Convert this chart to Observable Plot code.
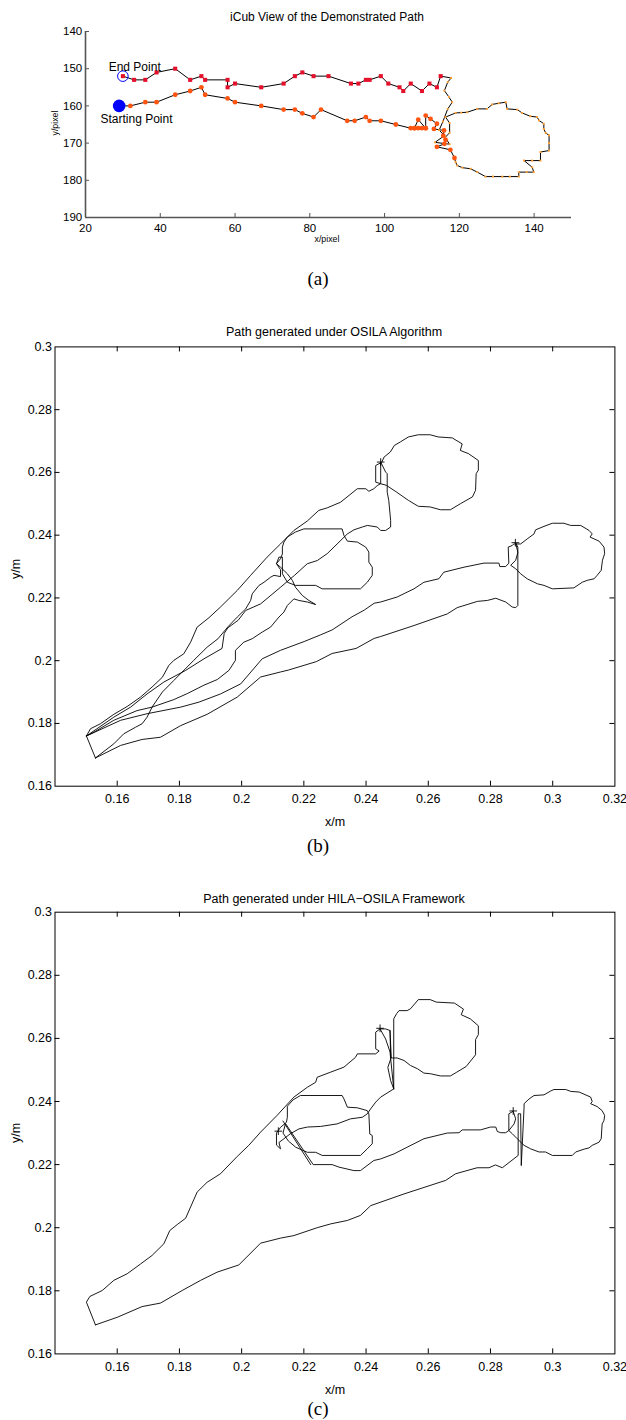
<!DOCTYPE html>
<html><head><meta charset="utf-8">
<script src="https://cdn.jsdelivr.net/npm/d3@7"></script>
<script src="https://cdn.jsdelivr.net/npm/@observablehq/plot@0.6"></script>
<style>
body{margin:0;background:#fff;}
#wrap{position:relative;width:626px;height:1420px;overflow:hidden;font-family:"Liberation Sans",Arial,Helvetica,sans-serif;background:#fff;}
.lbl{position:absolute;white-space:nowrap;transform:translate(-50%,-50%);line-height:1;color:#000;}
.rot{transform:translate(-50%,-50%) rotate(-90deg);}
.cap{font-family:"Liberation Serif","Times New Roman",serif;font-size:19px;}
.box{position:absolute;left:0;}
</style></head><body><div id="wrap"></div>
<script>
// ---------- Panel (a) data (pixel coordinates) ----------
const aXTicks = [20, 40, 60, 80, 100, 120, 140];
const aYTicks = [140, 150, 160, 170, 180, 190];
const aStart = [[29, 160]];
const aEnd = [[30, 152]];
const aLabels = ["End Point", "Starting Point"];
const aLabelX = [26.2, 24.0];
const aLabelY = [149.7, 163.5];
const aOrangeX = [32,36,39,44,48,51,52,58,60,67,73,76,78,81,83,90,92,95,96,99,103,107,108,109,110,111,109,108,111,111,112.3,114,113.2,115.9,115.7,116.3,116,114,117.6,118.7];
const aOrangeY = [160,159,159,157,156,155,157,158,159,160,161,161,162,163,161,164,164,163,164,164,165,166,166,166,166,166,163.7,166,166,162.6,163.5,164.8,166.2,166.6,168,169.1,170.2,171,171.8,174];
const aLoopX = [119.0,119.4,120.8,123.0,124.8,127.0,129.0,131.5,133.5,135.9,135.9,138.0,139.9,139.5,137.3,139.5,141.7,141.7,144.0,144.0,144.0,143.1,142.6,142.6,141.3,140.8,139.0,136.8,135.5,132.8,132.4,130.5,128.8,127.4,124.8,122.1,120.5,119.0,116.3,117.4,117.4,116.2,117.4,113.5,116.0,114.6,115.6,116.9,118.1,117.2,116.0,116.9,117.8];
const aLoopY = [175.1,176.0,176.6,176.9,177.8,179.0,179.0,179.0,179.0,179.0,177.8,177.8,177.8,176.5,174.7,174.7,174.7,172.4,172.0,170.0,167.9,167.3,166.2,164.8,163.9,163.0,162.8,161.9,161.0,160.8,159.0,159.3,159.6,160.8,160.8,161.7,161.8,161.9,163.0,164.6,167.2,168.5,170.3,169.8,168.0,166.5,164.2,160.8,159.0,157.6,155.9,153.6,152.5];
const aRedX = [115,114,112,110,107,105,104,101,99,96,95,93,91,85,81,78,76,73,67,60,58,58,52,51,48,44,39,36,33,30];
const aRedY = [152,155,154,156,154,156,155,154,152,153,153,154,154,152,152,151,152,154,155,154,155,153,153,152,153,150,151,153,153,152];

// ---------- Panels (b),(c) ticks (metres) ----------
const mXTickMarks = [0.16,0.18,0.2,0.22,0.24,0.26,0.28,0.3];
const mXLabels = [0.16,0.18,0.2,0.22,0.24,0.26,0.28,0.3,0.32];
const mYTickMarks = [0.18,0.2,0.22,0.24,0.26,0.28];
const mYLabels = [0.16,0.18,0.2,0.22,0.24,0.26,0.28,0.3];

// ---------- Panel (b) paths ----------
const bEdge = [[0.1501,0.1760],[0.1530,0.1690]];
const bUpper = [[0.1501,0.1760],[0.1514,0.1783],[0.1546,0.1799],[0.1589,0.1829],[0.1632,0.1854],[0.1675,0.1884],[0.1712,0.1916],[0.1745,0.1947],[0.1766,0.1985],[0.1782,0.2001],[0.1814,0.2022],[0.1836,0.2059],[0.1857,0.2107],[0.1895,0.2137],[0.1932,0.2171],[0.1986,0.2224],[0.2029,0.2272],[0.2082,0.2330],[0.2125,0.2372],[0.2168,0.2415],[0.2211,0.2445],[0.2248,0.2479],[0.2275,0.2487],[0.2318,0.2505],[0.2372,0.2548],[0.2399,0.2548],[0.2409,0.2540],[0.2425,0.2548],[0.2436,0.2558],[0.2447,0.2564],
 [0.2465,0.2559],[0.2497,0.2538],[0.2536,0.2511],[0.2568,0.2492],[0.2606,0.2490],[0.2639,0.2481],[0.2671,0.2481],[0.2703,0.2500],[0.2742,0.2522],[0.2752,0.2543],[0.2754,0.2596],[0.2761,0.2607],[0.2761,0.2638],[0.2729,0.2660],[0.2703,0.2670],[0.2709,0.2691],[0.2677,0.2710],[0.2632,0.2713],[0.2606,0.2720],[0.2568,0.2720],[0.2536,0.2713],[0.2510,0.2697],[0.2491,0.2686],[0.2478,0.2665],[0.2458,0.2649],[0.2450,0.2632],
 [0.2431,0.2622],[0.2431,0.2569],[0.2447,0.2564],[0.2447,0.2633],
 [0.2463,0.2601],[0.2468,0.2596],[0.2468,0.2537],[0.2473,0.2511],[0.2479,0.2447],[0.2479,0.2426],[0.2463,0.2415],[0.2447,0.2415],[0.2436,0.2426],[0.2404,0.2431],[0.2388,0.2426],[0.2361,0.2417],[0.2340,0.2404],[0.2307,0.2372],[0.2275,0.2341],[0.2243,0.2319],[0.2211,0.2309],[0.2170,0.2272],[0.2125,0.2234],[0.2061,0.2181],[0.2013,0.2160],[0.1989,0.2129],[0.1956,0.2105],[0.1944,0.2087],[0.1937,0.2039],[0.1879,0.2006],[0.1820,0.1969],[0.1750,0.1932],[0.1696,0.1894],[0.1643,0.1852],[0.1589,0.1820],[0.1501,0.1760]];
const bMiddle = [[0.1530,0.1690],[0.1589,0.1735],[0.1621,0.1767],[0.1659,0.1788],[0.1680,0.1799],[0.1696,0.1820],[0.1712,0.1852],[0.1745,0.1900],[0.1782,0.1937],[0.1846,0.2001],[0.1889,0.2043],[0.1924,0.2070],[0.1956,0.2108],[0.1986,0.2139],[0.2013,0.2165],[0.2029,0.2192],[0.2034,0.2213],[0.2056,0.2240],[0.2072,0.2250],[0.2093,0.2266],[0.2104,0.2272],[0.2125,0.2268],[0.2125,0.2290],[0.2112,0.2309],[0.2125,0.2325],[0.2131,0.2340],
 [0.2131,0.2362],[0.2136,0.2378],[0.2147,0.2394],[0.2173,0.2410],[0.2200,0.2420],[0.2323,0.2420],[0.2329,0.2399],[0.2340,0.2381],[0.2372,0.2378],[0.2399,0.2362],[0.2409,0.2346],[0.2409,0.2314],[0.2420,0.2298],[0.2420,0.2272],[0.2404,0.2250],[0.2382,0.2229],[0.2259,0.2229],[0.2238,0.2240],[0.2173,0.2240],[0.2147,0.2250],[0.2131,0.2277],[0.2131,0.2330],
 [0.2120,0.2330],[0.2112,0.2309],[0.2125,0.2298],[0.2147,0.2277],[0.2163,0.2256],[0.2173,0.2234],[0.2195,0.2208],[0.2216,0.2192],[0.2238,0.2179],[0.2211,0.2187],[0.2184,0.2192],[0.2168,0.2197],[0.2147,0.2176],[0.2136,0.2155],[0.2120,0.2139],[0.2093,0.2107],[0.2066,0.2091],[0.2034,0.2070],[0.2007,0.2059],[0.1980,0.2033],[0.1980,0.2001],[0.1959,0.1969],[0.1922,0.1940],[0.1879,0.1922],[0.1825,0.1895],[0.1782,0.1876],[0.1712,0.1852],[0.1664,0.1841],[0.1589,0.1810],[0.1525,0.1772],[0.1501,0.1760]];
const bRight = [[0.1501,0.1760],[0.1611,0.1810],[0.1696,0.1831],[0.1804,0.1852],[0.1863,0.1868],[0.1932,0.1894],[0.1997,0.1926],[0.2066,0.2006],[0.2125,0.2033],[0.2201,0.2061],[0.2253,0.2082],[0.2291,0.2098],[0.2355,0.2140],[0.2394,0.2161],[0.2426,0.2183],[0.2447,0.2187],[0.2500,0.2203],[0.2554,0.2229],[0.2586,0.2250],[0.2634,0.2261],[0.2650,0.2282],[0.2715,0.2298],[0.2779,0.2311],[0.2827,0.2311],[0.2830,0.2300],[0.2849,0.2300],[0.2859,0.2311],[0.2857,0.2362],[0.2870,0.2367],[0.2875,0.2372],
 [0.2897,0.2372],[0.2918,0.2388],[0.2940,0.2404],[0.2945,0.2417],[0.2972,0.2428],[0.2999,0.2438],[0.3036,0.2438],[0.3058,0.2431],[0.3090,0.2431],[0.3117,0.2415],[0.3127,0.2404],[0.3120,0.2394],[0.3149,0.2381],[0.3165,0.2362],[0.3167,0.2341],[0.3160,0.2320],[0.3156,0.2288],[0.3143,0.2272],[0.3133,0.2261],[0.3111,0.2256],[0.3095,0.2250],[0.3068,0.2232],[0.2999,0.2229],[0.2972,0.2240],[0.2951,0.2245],[0.2918,0.2261],[0.2897,0.2277],[0.2881,0.2293],[0.2865,0.2304],[0.2881,0.2320],[0.2888,0.2345],[0.2881,0.2375],
 [0.2888,0.2362],[0.2888,0.2176],[0.2881,0.2169],[0.2870,0.2171],[0.2849,0.2187],[0.2817,0.2199],[0.2790,0.2192],[0.2758,0.2189],[0.2693,0.2169],[0.2661,0.2149],[0.2554,0.2112],[0.2447,0.2077],[0.2426,0.2071],[0.2368,0.2039],[0.2291,0.2023],[0.2240,0.1997],[0.2150,0.1970],[0.2125,0.1964],[0.2061,0.1948],[0.1986,0.1884],[0.1889,0.1829],[0.1804,0.1793],[0.1739,0.1756],[0.1680,0.1749],[0.1611,0.1730],[0.1530,0.1690]];
const bPlus = [[0.2447,0.2633],[0.2880,0.2376]];

// ---------- Panel (c) paths ----------
const cPath = [[0.1530,0.1692],[0.1501,0.1764],[0.1512,0.1782],[0.1552,0.1801],[0.1589,0.1833],[0.1632,0.1854],[0.1675,0.1885],[0.1712,0.1912],[0.1750,0.1949],[0.1769,0.1991],[0.1793,0.2010],[0.1820,0.2030],[0.1857,0.2113],[0.1889,0.2144],[0.1932,0.2171],[0.1986,0.2226],[0.2023,0.2261],[0.2061,0.2303],[0.2114,0.2356],[0.2168,0.2414],[0.2211,0.2445],[0.2238,0.2461],[0.2243,0.2477],[0.2286,0.2493],[0.2329,0.2509],[0.2366,0.2540],[0.2372,0.2551],[0.2431,0.2551],[0.2442,0.2560],
 [0.2431,0.2567],[0.2431,0.2620],[0.2445,0.2630],[0.2463,0.2630],[0.2477,0.2625],[0.2479,0.2540],[0.2485,0.2538],[0.2500,0.2538],[0.2522,0.2530],[0.2543,0.2514],[0.2565,0.2504],[0.2586,0.2490],[0.2607,0.2488],[0.2639,0.2481],[0.2671,0.2481],[0.2690,0.2492],[0.2722,0.2511],[0.2752,0.2548],[0.2752,0.2596],[0.2761,0.2612],[0.2761,0.2640],[0.2735,0.2662],[0.2706,0.2675],[0.2713,0.2693],[0.2684,0.2712],[0.2626,0.2715],[0.2606,0.2723],[0.2568,0.2723],[0.2543,0.2694],[0.2532,0.2688],[0.2506,0.2688],[0.2498,0.2678],[0.2489,0.2662],[0.2489,0.2440],
 [0.2447,0.2414],[0.2431,0.2398],[0.2415,0.2377],[0.2404,0.2361],[0.2388,0.2350],[0.2350,0.2345],[0.2307,0.2329],[0.2254,0.2321],[0.2211,0.2319],[0.2184,0.2313],[0.2157,0.2298],[0.2136,0.2282],
 [0.2120,0.2270],[0.2125,0.2250],[0.2112,0.2262],[0.2112,0.2300],[0.2125,0.2318],[0.2144,0.2334],[0.2147,0.2350],[0.2147,0.2385],[0.2165,0.2405],[0.2189,0.2419],[0.2323,0.2419],[0.2329,0.2408],[0.2340,0.2382],[0.2372,0.2380],[0.2404,0.2371],[0.2409,0.2361],[0.2412,0.2297],[0.2420,0.2292],[0.2420,0.2266],[0.2404,0.2250],[0.2382,0.2229],[0.2259,0.2229],[0.2238,0.2239],[0.2211,0.2239],[0.2174,0.2255],[0.2150,0.2275],[0.2133,0.2300],[0.2141,0.2330],
 [0.2230,0.2200],[0.2291,0.2200],[0.2313,0.2192],[0.2361,0.2181],[0.2382,0.2181],[0.2425,0.2213],[0.2447,0.2218],[0.2490,0.2234],[0.2532,0.2255],[0.2586,0.2282],[0.2661,0.2300],[0.2699,0.2301],[0.2709,0.2310],[0.2768,0.2310],[0.2800,0.2319],[0.2817,0.2319],[0.2822,0.2305],[0.2833,0.2301],[0.2849,0.2301],[0.2859,0.2308],[0.2876,0.2329],[0.2881,0.2345],[0.2873,0.2369],
 [0.2859,0.2361],[0.2859,0.2308],[0.2870,0.2298],[0.2886,0.2282],[0.2908,0.2261],[0.2929,0.2250],[0.2956,0.2240],[0.2977,0.2240],[0.2999,0.2229],[0.3063,0.2229],[0.3074,0.2240],[0.3101,0.2249],[0.3117,0.2253],[0.3127,0.2261],[0.3149,0.2271],[0.3156,0.2282],[0.3159,0.2329],[0.3165,0.2340],[0.3167,0.2356],[0.3159,0.2371],[0.3143,0.2384],[0.3122,0.2393],[0.3127,0.2400],[0.3122,0.2414],[0.3085,0.2430],[0.3058,0.2432],[0.3042,0.2438],[0.3004,0.2438],[0.2993,0.2433],[0.2972,0.2421],[0.2940,0.2419],[0.2924,0.2408],[0.2908,0.2393],[0.2908,0.2382],[0.2899,0.2197],[0.2897,0.2361],[0.2889,0.2361],[0.2889,0.2229],
 [0.2838,0.2190],[0.2816,0.2199],[0.2795,0.2190],[0.2757,0.2190],[0.2688,0.2171],[0.2656,0.2150],[0.2522,0.2107],[0.2415,0.2070],[0.2382,0.2039],[0.2340,0.2023],[0.2286,0.2012],[0.2243,0.2000],[0.2168,0.1975],[0.2125,0.1967],[0.2061,0.1951],[0.1991,0.1882],[0.1921,0.1859],[0.1868,0.1833],[0.1809,0.1801],[0.1739,0.1761],[0.1680,0.1750],[0.1600,0.1716],[0.1530,0.1692]];
const cExtraA = [[0.2445,0.2630],[0.2463,0.2598],[0.2477,0.2557],[0.2489,0.2440]];
const cExtraB = [[0.2477,0.2625],[0.2481,0.2540],[0.2470,0.2508],[0.2479,0.2466],[0.2489,0.2440]];
const cDiag = [[0.2133,0.2338],[0.2222,0.2200]];
const cPlus = [[0.2445,0.2632],[0.2873,0.2370],[0.2118,0.2306]];

const FONT = '"Liberation Sans", Arial, Helvetica, sans-serif';
const wrap = document.getElementById("wrap");
function place(el, top){ const d=document.createElement("div"); d.className="box"; d.style.top=top+"px"; d.appendChild(el); wrap.appendChild(d); }
function label(text, x, y, size, cls){ const d=document.createElement("div"); d.className="lbl "+(cls||""); d.textContent=text; d.style.left=x+"px"; d.style.top=y+"px"; if(size) d.style.fontSize=size+"px"; wrap.appendChild(d); }
const xy = {x: d => d[0], y: d => d[1]};

// ---------- Panel (a) ----------
{
  const W=626,H=250,mL=85,mR=55,mT=31,mB=33;
  const iW=W-mL-mR, iH=H-mT-mB;
  const orange = aOrangeX.map((x,i)=>[x,aOrangeY[i]]);
  const loop = aLoopX.map((x,i)=>[x,aLoopY[i]]);
  const red = aRedX.map((x,i)=>[x,aRedY[i]]);
  const full = [...aStart, ...orange, ...loop, ...red];
  const labs = aLabels.map((t,i)=>({t, x:aLabelX[i], y:aLabelY[i]}));
  const svg = Plot.plot({
    width:W, height:H, marginLeft:mL, marginRight:mR, marginTop:mT, marginBottom:mB,
    x:{domain:[20,150]}, y:{domain:[140,190], reverse:true},
    style:{fontFamily:FONT, fontSize:"11.5px", background:"white", color:"black"},
    marks:[
      Plot.ruleX([20], {stroke:"#555", strokeWidth:1.6}),
      Plot.ruleY([190], {stroke:"#555", strokeWidth:1.6}),
      Plot.tickX(aXTicks, {x:d=>d, insetTop:iH-4, stroke:"#555"}),
      Plot.tickY(aYTicks, {y:d=>d, insetRight:iW-4, stroke:"#555"}),
      Plot.axisX({ticks:aXTicks, tickSize:0, tickPadding:6.3, label:null, tickFormat:d=>String(d)}),
      Plot.axisY({ticks:aYTicks, tickSize:0, tickPadding:3.3, label:null, tickFormat:d=>String(d)}),
      Plot.line(full, {...xy, stroke:"black", strokeWidth:1}),
      Plot.dot(loop, {...xy, symbol:"square", r:1.1, fill:"#ffa030"}),
      Plot.dot(orange, {...xy, r:2.4, fill:"#ff5511"}),
      Plot.dot(red, {...xy, symbol:"square", r:2.3, fill:"#e5102b"}),
      Plot.dot(aStart, {...xy, r:6.3, fill:"#0000ff"}),
      Plot.dot(aEnd, {...xy, r:5.3, stroke:"#0000ff", fill:"none", strokeWidth:1}),
      Plot.text(labs, {x:"x", y:"y", text:"t", textAnchor:"start", fontSize:12, fill:"black"})
    ]
  });
  place(svg, 0);
  label("iCub View of the Demonstrated Path", 327, 16.7, 12);
  label("x/pixel", 327, 239, 8.8);
  label("y/pixel", 54.5, 123, 8.8, "rot");
  label("(a)", 318, 278, null, "cap");
}

// ---------- Panels (b) and (c) ----------
function pathPanel(paths, extras, plus, top, mT, mB){
  const W=626,H=530,mL=54.5,mR=11.6;
  const iW=W-mL-mR, iH=H-mT-mB;
  const marks = [
    Plot.frame({stroke:"black", strokeWidth:1}),
    Plot.tickX(mXTickMarks, {x:d=>d, insetTop:iH-5, stroke:"black"}),
    Plot.tickX(mXTickMarks, {x:d=>d, insetBottom:iH-5, stroke:"black"}),
    Plot.tickY(mYTickMarks, {y:d=>d, insetRight:iW-5, stroke:"black"}),
    Plot.tickY(mYTickMarks, {y:d=>d, insetLeft:iW-5, stroke:"black"}),
    Plot.axisX({ticks:mXLabels, tickSize:0, tickPadding:7.9, label:null, tickFormat:d=>String(d)}),
    Plot.axisY({ticks:mYLabels, tickSize:0, tickPadding:3, label:null, tickFormat:d=>String(d)})
  ];
  for (const p of paths) marks.push(Plot.line(p, {...xy, stroke:"black", strokeWidth:0.9}));
  for (const p of extras) marks.push(Plot.line(p, {...xy, stroke:"black", strokeWidth:0.9}));
  marks.push(Plot.dot(plus, {...xy, symbol:"plus", r:2.6, stroke:"black", strokeWidth:0.9}));
  const svg = Plot.plot({
    width:W, height:H, marginLeft:mL, marginRight:mR, marginTop:mT, marginBottom:mB,
    x:{domain:[0.14,0.32]}, y:{domain:[0.16,0.3]},
    style:{fontFamily:FONT, fontSize:"12.5px", background:"white", color:"black"},
    marks
  });
  place(svg, top);
}
pathPanel([bEdge, bUpper, bMiddle, bRight], [], bPlus, 300, 46.4, 44.3);
label("Path generated under OSILA Algorithm", 334, 331.7, 12.5);
label("x/m", 335, 821.7, 12.5);
label("y/m", 16, 569, 12.5, "rot");
label("(b)", 318, 845, null, "cap");

pathPanel([cPath], [cExtraA, cExtraB, cDiag], cPlus, 866, 45.7, 42.6);
label("Path generated under HILA\u2212OSILA Framework", 334, 899, 12.5);
label("x/m", 335, 1389.5, 12.5);
label("y/m", 16, 1133, 12.5, "rot");
label("(c)", 318, 1408, null, "cap");
</script></body></html>
